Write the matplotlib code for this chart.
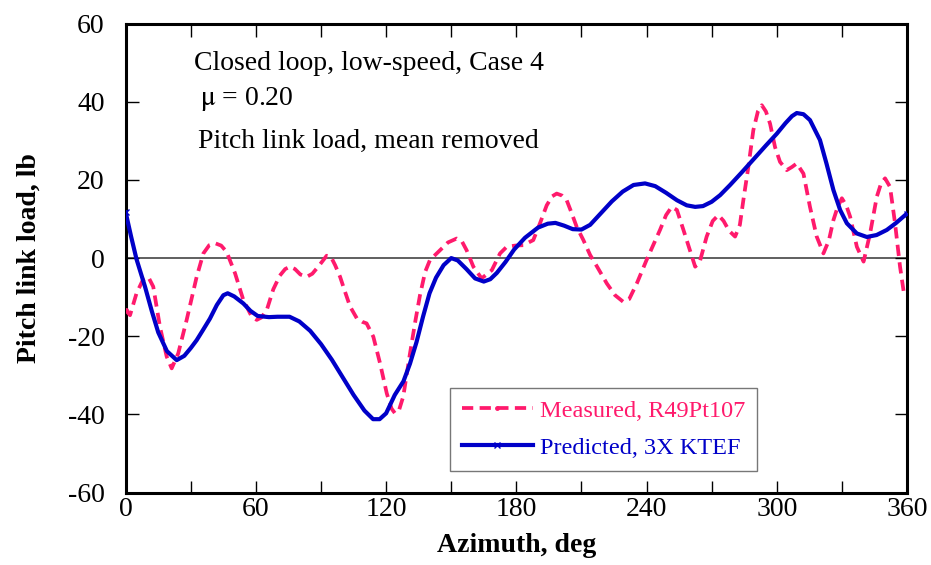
import matplotlib
matplotlib.use("Agg")
import matplotlib.pyplot as plt
from matplotlib.ticker import MultipleLocator

# Measured pitch link load (mean removed), lb vs azimuth, deg
measured_azimuth = [
    0, 2, 5, 8, 10.4, 12.7, 15.8, 18.9, 21.2, 24.2, 28.1, 32.7, 35.8, 38.5,
    41.2, 44, 46.5, 50.4, 54.2, 58.1, 60.4, 62.5, 65, 68, 71, 73.5, 75.7, 78,
    80.5, 83.4, 86, 89, 92.6, 94.5, 96.5, 98.8, 101, 103.4, 106.5, 109, 111,
    114.1, 117.2, 120.3, 122.5, 124.1, 126, 127.9, 131, 133.5, 135.6, 138,
    140.2, 144.8, 148.5, 152.5, 155, 157.1, 160.2, 164, 168.7, 172.5, 175.6,
    179.5, 183.2, 187.8, 190.9, 194, 196.5, 198.6, 201, 203.2, 205.5, 207.8,
    210.9, 214, 217, 221.7, 225.5, 229.3, 232, 235.5, 240, 246.2, 249, 251.6,
    254, 257, 260, 262.4, 264.5, 267.7, 270.5, 273.1, 275.5, 278, 280.8, 283,
    284.6, 286.9, 289.2, 291.3, 293.1, 295, 296.9, 299.2, 301.5, 304.6, 307,
    309.2, 312.3, 315.3, 318.4, 321.5, 324, 326.1, 328, 330, 332, 333.8,
    336.9, 340, 343, 346.1, 348, 349.9, 352.2, 354.5, 356.8, 358.8,
]
measured_load = [
    -13.3, -14.6, -9, -5.5, -4.8, -7.3, -17.6, -25.2, -28.2, -24.4, -15.8,
    -4.8, 1.2, 3.3, 3.8, 3.2, 1.6, -3.9, -10.7, -15, -15.8, -15.2, -13.3, -8,
    -4.5, -2.8, -2.2, -2.8, -4.2, -4.8, -4, -2, 0.6, 0.4, -1.8, -4.8, -8.5,
    -12.4, -15.4, -16.3, -16.7, -20.1, -26.9, -34.6, -38.5, -39.7, -38.8,
    -35.4, -24.4, -16, -9.5, -3.5, -0.5, 2, 4, 5, 4.2, 2, -2.2, -5.2, -3.1,
    1.2, 2.9, 3.2, 3.3, 4.6, 8.9, 13.5, 15.8, 16.5, 16, 14.8, 11.5, 8, 4.6,
    0.8, -2, -6.5, -9.5, -11.2, -10.5, -6.5, -0.5, 7.2, 11, 13.1, 12.3, 7.2,
    2, -2.2, -1, 5.5, 9.5, 11, 9.5, 7, 5.5, 8.5, 14.8, 23.3, 32.7, 37.5,
    39.1, 37.5, 34.4, 28.4, 24.6, 22.5, 23.3, 24.2, 21.6, 13.1, 5.5, 1.2,
    4.5, 9.7, 13, 15.3, 13.5, 10.6, 2.9, -0.9, 6.3, 15.7, 19, 20.4, 18.2,
    8.9, -2.2, -9.8,
]

# Predicted pitch link load, 3X KTEF
predicted_azimuth = [
    0, 2.5, 5, 8.9, 12, 15, 19, 23.5, 27, 30, 32.7, 35.5, 38.8, 42, 45, 47,
    50, 54.2, 57.5, 60.8, 66, 70, 75.5, 80, 85, 90, 95, 100, 105, 110, 114,
    117, 120, 124, 128, 131, 134, 137, 140, 143, 146.5, 150, 153, 157, 161,
    165, 168, 171, 175, 179, 184, 190, 194.5, 198, 202, 206, 210, 214, 219,
    224, 229, 234, 239.3, 244, 249, 254, 258.5, 262.4, 266, 270, 273.9,
    278.5, 284, 290, 295, 300, 304, 307, 309.2, 312.3, 315.3, 319.9, 322.9,
    326.1, 329.2, 332.3, 336.9, 341.5, 346, 350.7, 355, 360,
]
predicted_load = [
    11.7, 5.5, -0.3, -7.3, -13.5, -19, -23.8, -26.1, -25, -23, -21, -18.5,
    -15.5, -12, -9.5, -9, -9.8, -11.6, -13.5, -14.8, -15.1, -15, -15, -16.2,
    -18.6, -22, -26, -30.5, -35, -39, -41.2, -41.2, -39.7, -35, -31.5, -27,
    -21.5, -15, -9, -5, -1.8, 0, -0.6, -2.8, -5.2, -6, -5.4, -3.8, -1, 2.2,
    5.2, 7.8, 8.8, 9, 8.3, 7.4, 7.3, 8.5, 11.5, 14.5, 17, 18.7, 19.1, 18.4,
    16.7, 14.8, 13.5, 13.1, 13.3, 14.4, 16.1, 18.7, 22, 25.7, 28.8, 31.8,
    34.5, 36.3, 37.1, 36.8, 35.3, 30.2, 24.2, 17.4, 12.3, 8.9, 6.3, 5.4,
    5.9, 7.2, 9, 11.4,
]

x_ticks = [0, 60, 120, 180, 240, 300, 360]
y_ticks = [-60, -40, -20, 0, 20, 40, 60]

PINK = "#ff1a6c"
BLUE = "#0000c8"

plt.rcParams["font.family"] = ["Liberation Serif", "DejaVu Serif"]
plt.rcParams["mathtext.fontset"] = "stix"
plt.rcParams["axes.unicode_minus"] = False

fig = plt.figure(figsize=(9.31, 5.65), dpi=100)
ax = fig.add_axes([0.135, 0.128, 0.8392, 0.8304])

ax.axhline(0, color="#444444", lw=1.2, zorder=1)

ax.plot(measured_azimuth, measured_load, color=PINK, lw=2.7,
        ls=(0, (3.0, 1.7)), marker=".", ms=5, markevery=[0],
        label="Measured, R49Pt107", zorder=3)
ax.plot(predicted_azimuth, predicted_load, color=BLUE, lw=3.0,
        marker="x", ms=4, mew=1, markevery=[0, -1],
        label="Predicted, 3X KTEF", zorder=4)

ax.set_xlim(0, 360)
ax.set_ylim(-60, 60)
ax.set_xticks(x_ticks)
ax.set_yticks(y_ticks)
ax.xaxis.set_minor_locator(MultipleLocator(30))

for side in ax.spines.values():
    side.set_linewidth(2.2)

ax.tick_params(axis="both", which="both", direction="in", length=9,
               width=1.0, labelsize=20)
ax.tick_params(axis="x", which="both", top=True, pad=3)
ax.tick_params(axis="y", which="both", right=True, pad=15)

ax.set_xlabel("Azimuth, deg", fontsize=20, fontweight="bold")
ax.set_ylabel("Pitch link load, lb", fontsize=20, fontweight="bold")
ax.xaxis.set_label_coords(0.5, -0.085)
ax.yaxis.set_label_coords(-0.108, 0.5)

ax.text(31.5, 48.1, "Closed loop, low-speed, Case 4", fontsize=20,
        va="baseline", ha="left")
ax.text(34.2, 39.1, r"$\mathrm{\mu}$ = 0.20", fontsize=20,
        va="baseline", ha="left")
ax.text(33.3, 28.1, "Pitch link load, mean removed", fontsize=20,
        va="baseline", ha="left")

leg = ax.legend(loc="lower left", bbox_to_anchor=(0.415, 0.046),
                fontsize=17.5, frameon=True, fancybox=False, shadow=False,
                handlelength=2.9, handletextpad=0.3, labelspacing=0.62,
                borderpad=0.5, borderaxespad=0.0, framealpha=1)
leg.get_frame().set_edgecolor("#777777")
leg.get_frame().set_linewidth(1.0)
for txt, col in zip(leg.get_texts(), [PINK, BLUE]):
    txt.set_color(col)

fig.savefig("out.png", dpi=100)
